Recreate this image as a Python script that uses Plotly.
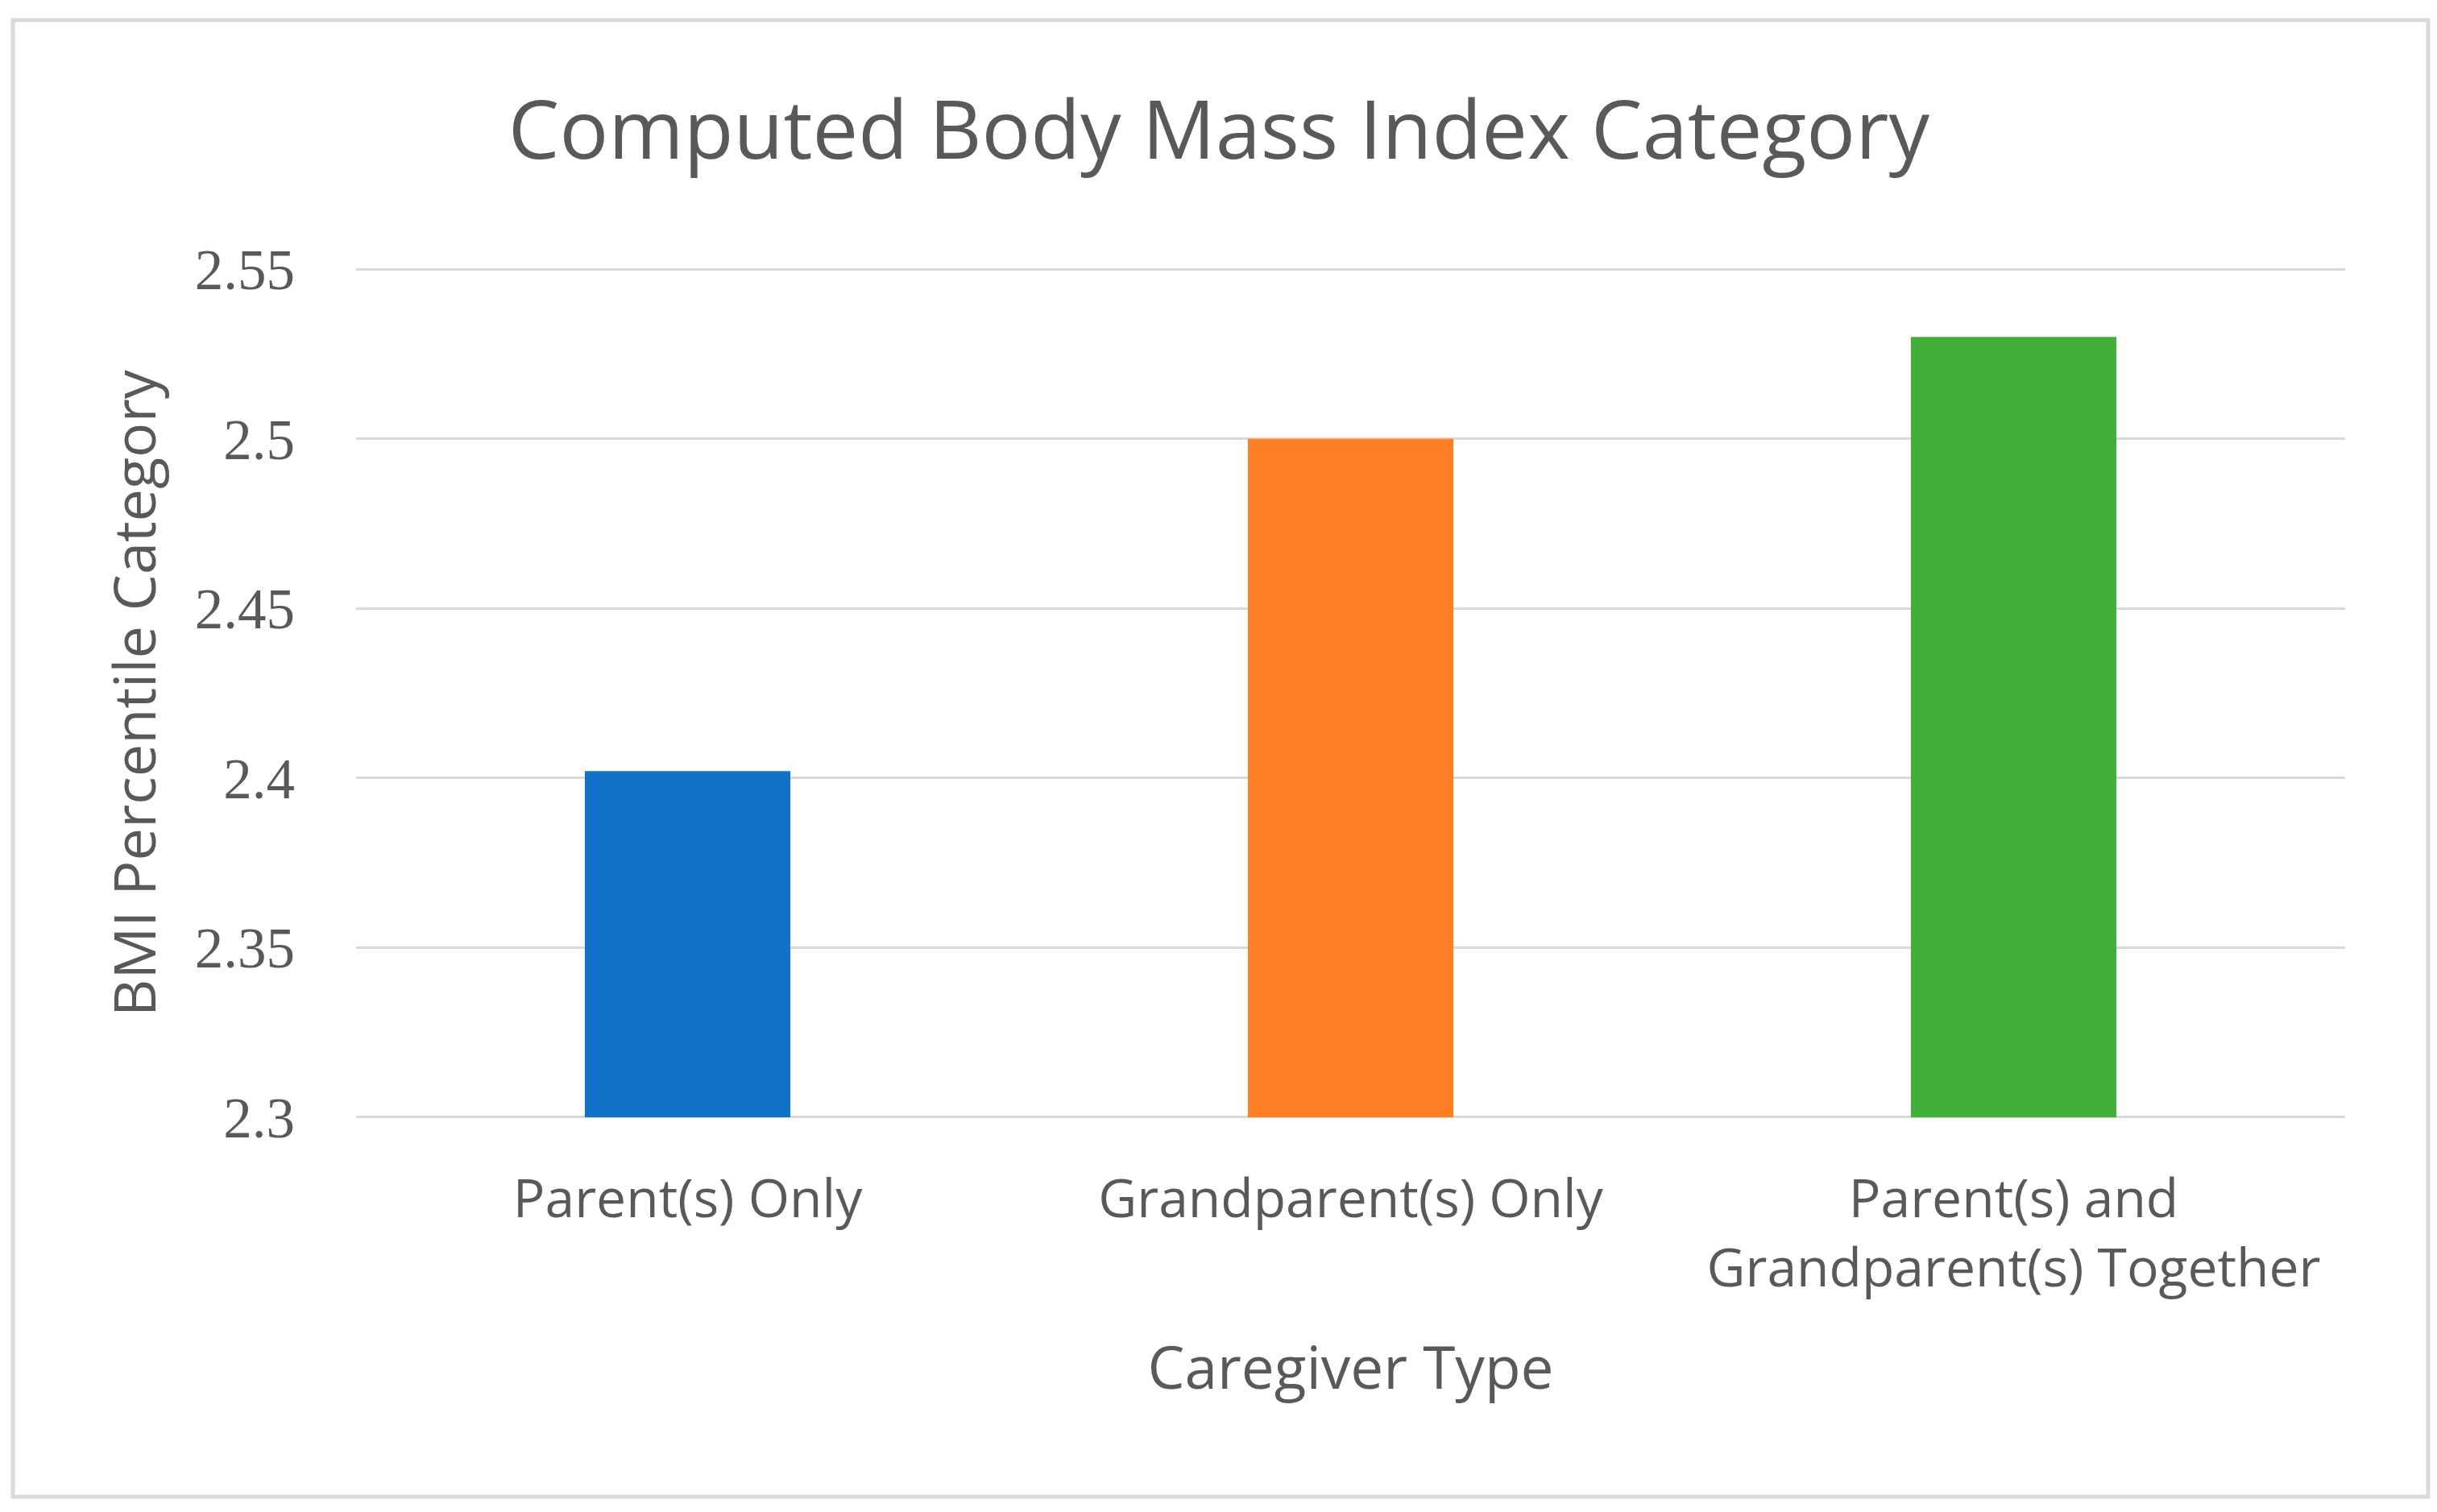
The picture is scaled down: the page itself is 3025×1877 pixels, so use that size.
import plotly.graph_objects as go

categories = ["Parent(s) Only", "Grandparent(s) Only", "Parent(s) and Grandparent(s) Together"]
tick_labels = ["Parent(s) Only", "Grandparent(s) Only", "Parent(s) and<br>Grandparent(s) Together"]
values = [2.402, 2.50, 2.53]
colors = ["#1372C8", "#FE7F24", "#43AE3A"]
y_min = 2.3
y_ticks = [2.3, 2.35, 2.4, 2.45, 2.5, 2.55]
y_tick_text = ["2.3", "2.35", "2.4", "2.45", "2.5", "2.55"]

TEXT = "#595959"
GRID = "#D9D9D9"

fig = go.Figure(
    go.Bar(
        x=categories,
        y=[v - y_min for v in values],
        base=y_min,
        marker=dict(color=colors, line=dict(width=0)),
        width=0.31,
        showlegend=False,
    )
)

L, R, T, B = 434, 122, 324, 496
W, H = 3025, 1877
pw, ph = W - L - R, H - T - B

fig.update_layout(
    width=W,
    height=H,
    paper_bgcolor="white",
    plot_bgcolor="white",
    margin=dict(l=L, r=R, t=T, b=B),
    title=dict(
        text="Computed Body Mass Index Category",
        x=0.4975,
        xanchor="center",
        y=1 - 154 / H,
        yanchor="middle",
        font=dict(family="Open Sans", size=101, color=TEXT),
    ),
    font=dict(family="Open Sans", color=TEXT),
)

fig.update_xaxes(
    tickmode="array",
    tickvals=categories,
    ticktext=tick_labels,
    tickfont=dict(family="Open Sans", size=66, color=TEXT),
    ticks="",
    showgrid=False,
    showline=False,
    ticklabelstandoff=55,
    title=dict(text="Caregiver Type", font=dict(family="Open Sans", size=73, color=TEXT), standoff=58),
)

fig.update_yaxes(
    range=[2.2995, 2.5505],
    tickmode="array",
    tickvals=y_ticks,
    ticktext=y_tick_text,
    tickfont=dict(family="Liberation Serif", size=71, color=TEXT),
    ticks="",
    showgrid=True,
    gridcolor=GRID,
    gridwidth=3,
    zeroline=False,
    showline=False,
    ticklabelstandoff=75,
    title=dict(text="BMI Percentile Category", font=dict(family="Open Sans", size=72, color=TEXT), standoff=24),
)

# outer chart border
fig.add_shape(
    type="rect",
    xref="paper",
    yref="paper",
    x0=(8 - L) / pw,
    x1=(3006 - L) / pw,
    y0=(H - B - 1850) / ph,
    y1=(H - B - 17) / ph,
    line=dict(color=GRID, width=5),
    fillcolor="rgba(0,0,0,0)",
    layer="below",
)

fig.write_html("out.html")
